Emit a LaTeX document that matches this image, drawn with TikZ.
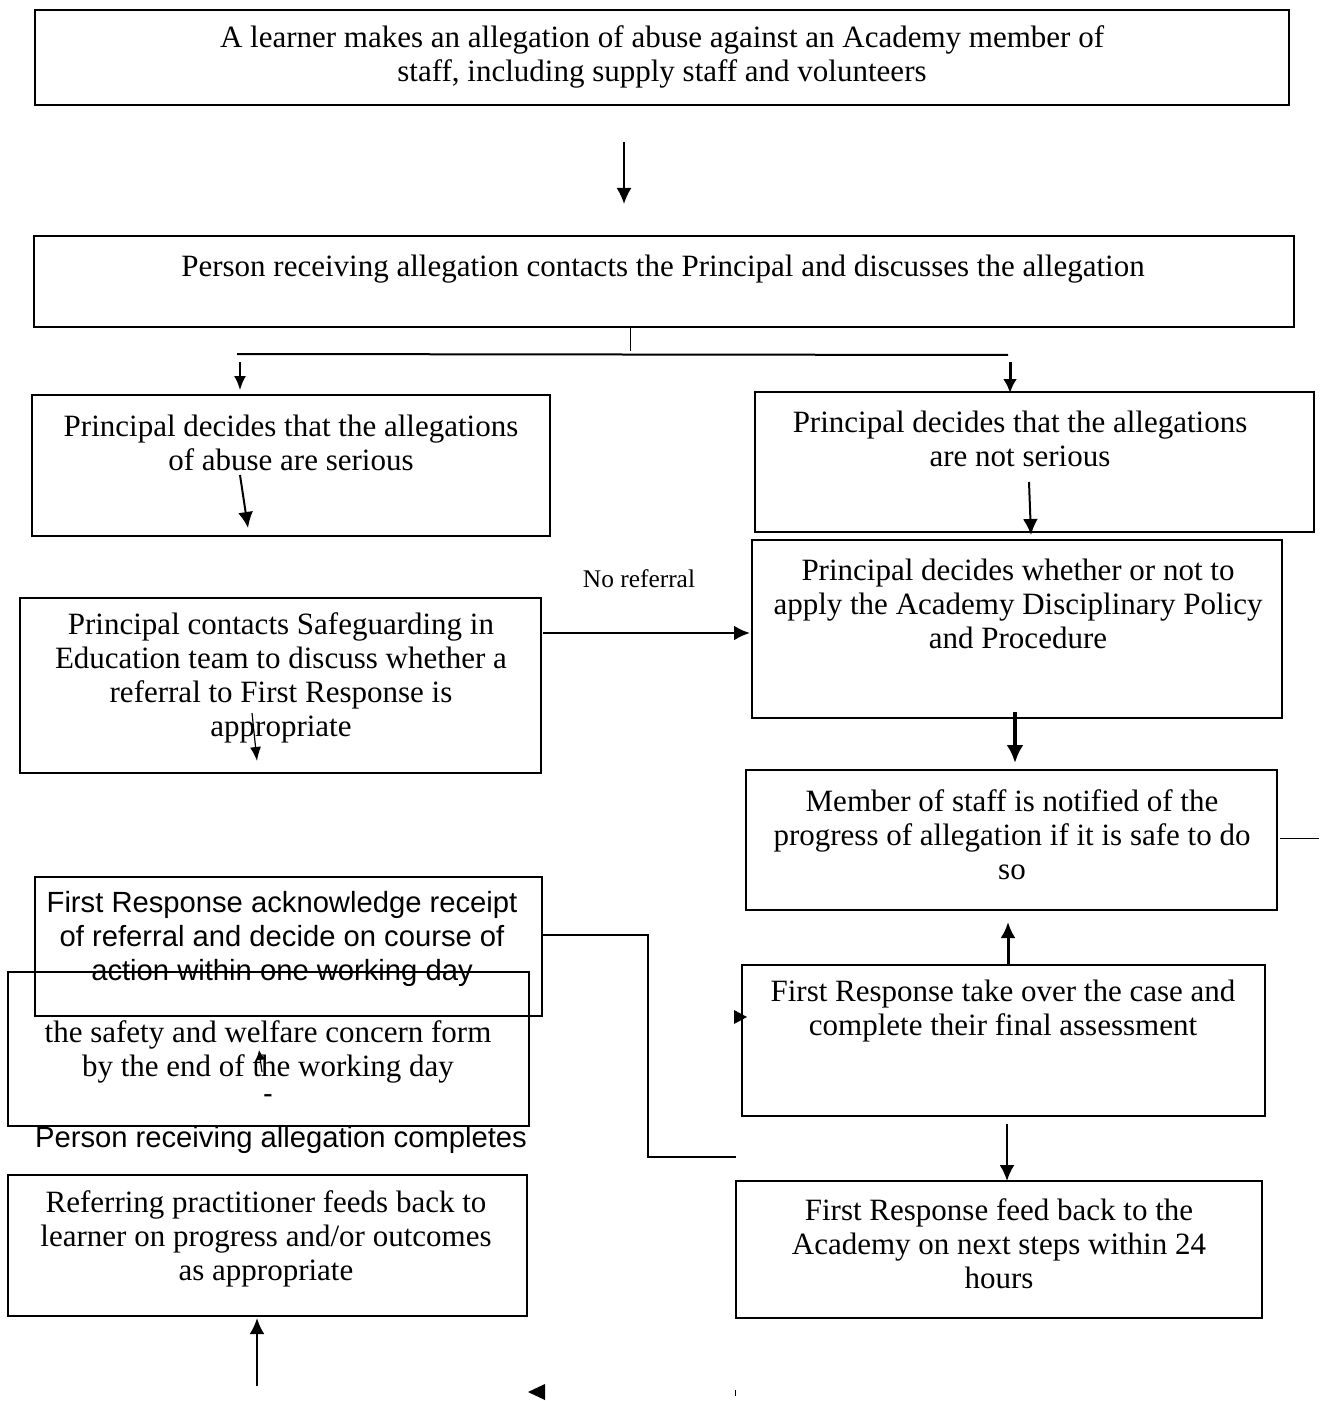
\documentclass[tikz,border=0pt]{standalone}
\usepackage{fontspec}
\setmainfont{Liberation Serif}
\newfontfamily\arialf{Liberation Sans}
\usetikzlibrary{arrows.meta,fit}
\begin{document}
\begin{tikzpicture}[x=0.5pt,y=-0.5pt,
  box/.style={draw, line width=0.7pt, inner sep=0pt},
  thickbox/.style={draw, line width=1.4pt, inner sep=0pt},
  txt/.style={align=center, font=\fontsize{15.5}{17}\selectfont, inner sep=0pt},
  smalltxt/.style={align=center, font=\fontsize{12.7}{15}\selectfont, inner sep=0pt},
  stxt/.style={align=center, font=\arialf\fontsize{14.6}{17}\selectfont, inner sep=0pt},
  arr/.style={-{Latex[length=8pt,width=7.5pt]}, line width=1pt},
  bigarr/.style={-{Latex[length=9pt,width=8.5pt]}, line width=2pt},
  conn/.style={line width=1.3pt}]
\fill[white] (0,0) rectangle (1319,1401);
\useasboundingbox (0,0) rectangle (1319,1401);

% boxes
\node[box, fit={(35,10) (1289,105)}] (b1) {};
\node[box, fit={(34,236) (1294,327)}] (b2) {};
\node[box, fit={(32,395) (550,536)}] (b3) {};
\node[box, fit={(755,392) (1314,532)}] (b4) {};
\node[box, fit={(752,540) (1282,718)}] (b5) {};
\node[box, fit={(20,598) (541,773)}] (b6) {};
\node[box, fit={(746,770) (1277,910)}] (b7) {};
\node[box, fit={(8,972) (529,1126)}] (b9) {};
\node[thickbox, fit={(35,877) (542,1016)}] (b8) {};
\node[box, fit={(742,965) (1265,1116)}] (b10) {};
\node[box, fit={(736,1181) (1262,1318)}] (b11) {};
\node[box, fit={(8,1175) (527,1316)}] (b12) {};

% texts
\node[txt] (t1) at (662,57) {A learner makes an allegation of abuse against an Academy member of\\staff, including supply staff and volunteers};
\node[txt] (t2) at (663,269) {Person receiving allegation contacts the Principal and discusses the allegation};
\node[txt] (t3) at (291,443) {Principal decides that the allegations\\of abuse are serious};
\node[txt] (t4) at (1020,439) {Principal decides that the allegations\\are not serious};
\node[txt] (t5) at (1018,604) {Principal decides whether or not to\\apply the Academy Disciplinary Policy\\and Procedure};
\node[smalltxt] (nr) at (639,579) {No referral};
\node[txt] (t6) at (281,678) {Principal contacts Safeguarding in\\Education team to discuss whether a\\referral to First Response is\\appropriate};
\node[txt] (t7) at (1012,835) {Member of staff is notified of the\\progress of allegation if it is safe to do\\so};
\node[stxt] (t8) at (282,939) {First Response acknowledge receipt\\of referral and decide on course of\\action within one working day};
\node[txt] (t9) at (268,1052) {the safety and welfare concern form\\by the end of the working day};
\node[stxt] (dash) at (268,1099) {-};
\node[stxt] (t9b) at (281,1140) {Person receiving allegation completes};
\node[txt] (t10) at (1003,1011) {First Response take over the case and\\complete their final assessment};
\node[txt] (t11) at (999,1244) {First Response feed back to the\\Academy on next steps within 24\\hours};
\node[txt] (t12) at (266,1239) {Referring practitioner feeds back to\\learner on progress and/or outcomes\\as appropriate};

% coordinates for connectors
\coordinate (a1s) at (624,142); \coordinate (a1e) at (624,204);
\coordinate (s0) at (630,327); \coordinate (s1) at (630,351);
\coordinate (hl) at (237,354); \coordinate (hr) at (1008,355);
\coordinate (la1) at (240,362); \coordinate (la2) at (240,390);
\coordinate (ra1) at (1010,362); \coordinate (ra2) at (1010,393);
\coordinate (i3a) at (240,475); \coordinate (i3b) at (248,528);
\coordinate (i4a) at (1029,482); \coordinate (i4b) at (1031,535);
\coordinate (nr1) at (543,633); \coordinate (nr2) at (750,633);
\coordinate (i6a) at (252,713); \coordinate (i6b) at (257,761);
\coordinate (k1) at (1015,712); \coordinate (k2) at (1015,763);
\coordinate (rl1) at (1280,838); \coordinate (rl2) at (1319,838);
\coordinate (c1) at (542,935); \coordinate (c2) at (648,935);
\coordinate (c3) at (648,1157); \coordinate (c4) at (736,1157);
\coordinate (i9a) at (262,1072); \coordinate (i9b) at (259,1050);
\coordinate (u1) at (1008,966); \coordinate (u2) at (1008,922);
\coordinate (d1) at (1007,1124); \coordinate (d2) at (1007,1181);
\coordinate (w1) at (257,1386); \coordinate (w2) at (257,1318);

% connectors
\draw[arr] (a1s) -- (a1e);
\draw[line width=0.5pt] (s0) -- (s1);
\draw[line width=1pt] (hl) -- (hr);
\draw[arr, -{Latex[length=7pt,width=6pt]}] (la1) -- (la2);
\draw[arr, line width=1.5pt, -{Latex[length=7pt,width=7pt]}] (ra1) -- (ra2);
\draw[arr] (i3a) -- (i3b);
\draw[arr] (i4a) -- (i4b);
\draw[arr, line width=1.3pt] (nr1) -- (nr2);
\draw[arr, line width=0.6pt, -{Latex[length=7pt,width=5.5pt]}] (i6a) -- (i6b);
\draw[bigarr] (k1) -- (k2);
\draw[line width=0.5pt] (rl1) -- (rl2);
\draw[conn] (c1) -- (c2) -- (c3) -- (c4);
\draw[-{Latex[length=5pt,width=5pt]}, line width=0.6pt] (i9a) -- (i9b);
\draw[arr, line width=1.5pt] (u1) -- (u2);
\draw[arr, line width=1.1pt] (d1) -- (d2);
\draw[arr, line width=1.3pt] (w1) -- (w2);

% stray arrowheads and marks
\fill (734,1010) -- (747,1017) -- (734,1024) -- cycle;
\fill (545,1384) -- (528,1392) -- (545,1400) -- cycle;
\draw[line width=0.5pt] (735,1390) -- (735,1396);
\end{tikzpicture}
\end{document}
